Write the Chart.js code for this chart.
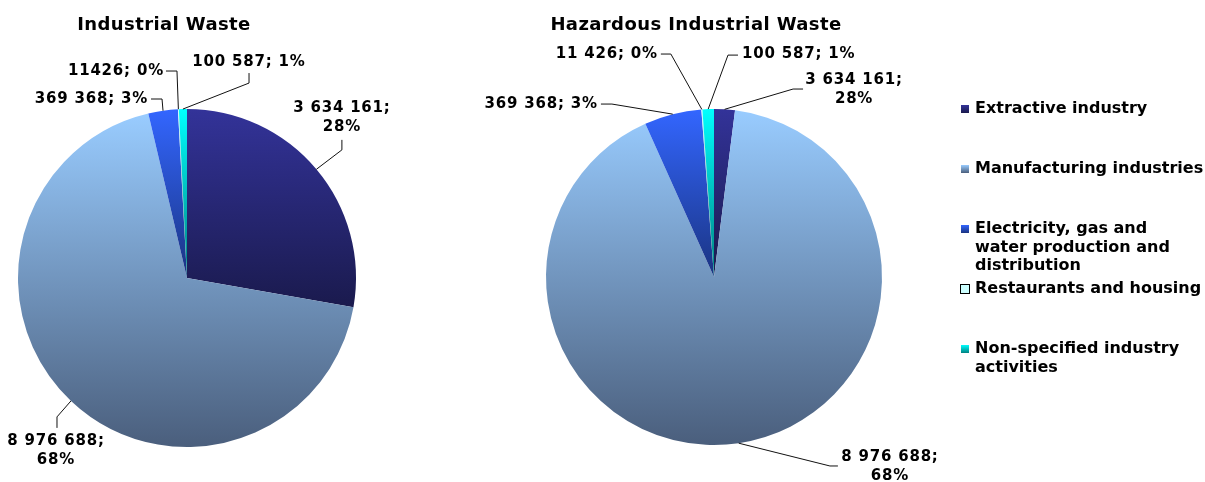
<!DOCTYPE html>
<html>
<head>
<meta charset="utf-8">
<script src="https://cdn.jsdelivr.net/npm/chart.js@4"></script>
<style>
body{margin:0;background:#fff}
#wrap{position:relative;width:1205px;height:482px}
canvas{position:absolute;top:0}
#left{left:0}
#right{left:410px}
</style>
</head>
<body>
<div id="wrap">
<canvas id="left" width="410" height="482"></canvas>
<canvas id="right" width="795" height="482"></canvas>
</div>
<script>
// legend line breaks kept as in the original
const categories = ['Extractive industry', 'Manufacturing industries', 'Electricity, gas and\nwater production and\ndistribution', 'Restaurants and housing', 'Non-specified industry\nactivities']

const industrialWaste = [3634161, 8976688, 369368, 11426, 100587]
const industrialLabels = ['3 634 161;\n28%', '8 976 688;\n68%', '369 368; 3%', '11426; 0%', '100 587; 1%']

// slice sizes (%), its printed labels repeat the first pie's numbers
const hazardousShares = [2.0, 91.3, 5.5, 0.1, 1.1]
const hazardousLabels = ['3 634 161;\n28%', '8 976 688;\n68%', '369 368; 3%', '11 426; 0%', '100 587; 1%']

const topColors = ['#333399', '#99ccff', '#3366ff', '#ccffff', '#00ffff']
const bottomColors = ['#1a1a4d', '#4a5e7c', '#1a3380', '#668080', '#008080']
const font = '"DejaVu Sans", Verdana, sans-serif'

// vertical gradient over each slice's own height, like the office chart
function sliceFill(c){
    const i = c.dataIndex
    const area = c.chart.chartArea
    if (i === undefined || !area) return topColors[0]
    const vals = c.dataset.data
    const total = vals.reduce((a, b) => a + b, 0)
    let before = 0
    for (let k = 0; k < i; k++) before += vals[k]
    const a0 = before / total * 2 * Math.PI
    const a1 = (before + vals[i]) / total * 2 * Math.PI
    const cy = (area.top + area.bottom) / 2
    const r = Math.min(area.width, area.height) / 2
    const ys = [cy, cy - r * Math.cos(a0), cy - r * Math.cos(a1)]
    if (a0 < 1e-9 || a1 > 2 * Math.PI - 1e-9) ys.push(cy - r)
    if (a0 < Math.PI && a1 > Math.PI) ys.push(cy + r)
    const g = c.chart.ctx.createLinearGradient(0, Math.min(...ys), 0, Math.max(...ys) + 1)
    g.addColorStop(0, topColors[i])
    g.addColorStop(1, bottomColors[i])
    return g
}

function pieLabels(texts, spots, title, titleDx){
    return {
        id: 'pieLabels',
        afterDraw(chart){
            const ctx = chart.ctx
            const area = chart.chartArea
            const arcs = chart.getDatasetMeta(0).data
            ctx.save()
            ctx.fillStyle = '#000'
            ctx.strokeStyle = '#111'
            ctx.lineWidth = 1
            ctx.textBaseline = 'middle'
            ctx.textAlign = 'center'
            ctx.font = 'bold 18px ' + font
            ctx.letterSpacing = '0.4px'
            ctx.fillText(title, (area.left + area.right) / 2 + titleDx, 25)
            ctx.font = 'bold 15px ' + font
            ctx.letterSpacing = '0.8px'
            arcs.forEach((arc, i) => {
                const s = spots[i]
                const mid = (arc.startAngle + arc.endAngle) / 2
                const ax = arc.x + Math.cos(mid) * arc.outerRadius
                const ay = arc.y + Math.sin(mid) * arc.outerRadius
                ctx.beginPath()
                ctx.moveTo(ax, ay)
                ctx.lineTo(ax + s.knee[0], ay + s.knee[1])
                ctx.lineTo(ax + s.end[0], ay + s.end[1])
                ctx.stroke()
                ctx.textAlign = s.align
                texts[i].split('\n').forEach((line, k) => {
                    ctx.fillText(line, ax + s.text[0], ay + s.text[1] + k * 19.5)
                })
            })
            ctx.restore()
        }
    }
}

const sideLegend = {
    id: 'sideLegend',
    afterDraw(chart){
        const ctx = chart.ctx
        const area = chart.chartArea
        const x = area.right + 79
        ctx.save()
        ctx.font = 'bold 16px ' + font
        ctx.textBaseline = 'middle'
        ctx.textAlign = 'left'
        categories.forEach((name, i) => {
            const y = area.top + i * 60
            if (i === 3){
                ctx.fillStyle = topColors[i]
                ctx.fillRect(x - 1, y - 5, 10, 10)
                ctx.strokeStyle = '#000'
                ctx.lineWidth = 1
                ctx.strokeRect(x - 0.5, y - 4.5, 9, 9)
            } else {
                const g = ctx.createLinearGradient(0, y - 4, 0, y + 4)
                g.addColorStop(0, topColors[i])
                g.addColorStop(1, bottomColors[i])
                ctx.fillStyle = g
                ctx.fillRect(x, y - 4, 8, 8)
            }
            ctx.fillStyle = '#000'
            name.split('\n').forEach((line, k) => ctx.fillText(line, x + 14, y + k * 18.5))
        })
        ctx.restore()
    }
}

const leftSpots = [
    {text: [25.5, -61.4], align: 'center', knee: [25.5, -19.4], end: [25.5, -29.4]},
    {text: [-15, 40], align: 'center', knee: [-14, 16], end: [-14, 27]},
    {text: [-15, -11.7], align: 'right', knee: [-1, -11.7], end: [-12, -11.7]},
    {text: [-14.4, -38.2], align: 'right', knee: [-1.4, -38.2], end: [-12.4, -38.2]},
    {text: [66.1, -47], align: 'center', knee: [66.1, -26], end: [66.1, -36]}
]
const rightSpots = [
    {text: [129.5, -29.3], align: 'center', knee: [68.5, -20.3], end: [78.5, -20.3]},
    {text: [151.2, 13.8], align: 'center', knee: [91.2, 22.8], end: [99.2, 22.8]},
    {text: [-74.8, -10.1], align: 'right', knee: [-60.8, -10.1], end: [-71.8, -10.1]},
    {text: [-44, -55.4], align: 'right', knee: [-31, -55.4], end: [-41, -55.4]},
    {text: [33.8, -55], align: 'left', knee: [19.8, -54], end: [29.8, -54]}
]

function pieConfig(values, padding, plugins){
    return {
        type: 'pie',
        data: {
            labels: categories.map(s => s.replace(/\n/g, ' ')),
            datasets: [{
                data: values,
                backgroundColor: sliceFill,
                borderWidth: 0,
                hoverBorderWidth: 0,
                hoverOffset: 0,
                offset: 0
            }]
        },
        options: {
            responsive: false,
            animation: false,
            layout: {padding},
            plugins: {
                legend: {display: false},
                title: {display: false},
                tooltip: {enabled: false}
            }
        },
        plugins
    }
}

new Chart(document.getElementById('left'), pieConfig(industrialWaste,
    {left: 18, right: 54, top: 109, bottom: 35},
    [pieLabels(industrialLabels, leftSpots, 'Industrial Waste', -23)]))

new Chart(document.getElementById('right'), pieConfig(hazardousShares,
    {left: 136, right: 323, top: 109, bottom: 37},
    [pieLabels(hazardousLabels, rightSpots, 'Hazardous Industrial Waste', -18), sideLegend]))
</script>
</body>
</html>
